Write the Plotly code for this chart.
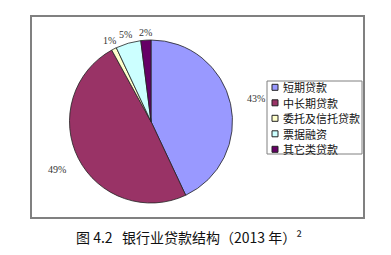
import math
import plotly.graph_objects as go

categories = ["短期贷款", "中长期贷款", "委托及信托贷款", "票据融资", "其它类贷款"]
values = [43, 49, 1, 5, 2]
colors = ["#9999FF", "#993366", "#FFFFCC", "#CCFFFF", "#660066"]
caption = "图 4.2   银行业贷款结构（2013 年）²"

# style: distance of each percent label from the centre, in pie radii
label_dist = [1.32, 1.30, 1.12, 1.11, 1.10]

W, H = 391, 255
cx, cy, r = 151, 121.5, 81.5


def px(x):
    return x / W


def py(y):
    return 1 - y / H


fig = go.Figure(go.Pie(
    labels=categories, values=values, sort=False, direction="clockwise", rotation=0,
    marker=dict(colors=colors, line=dict(color="#222222", width=0.8)),
    textinfo="none", hoverinfo="label+percent",
    domain=dict(x=[px(cx - r), px(cx + r)], y=[py(cy + r), py(cy - r)]),
    showlegend=False,
))

shapes = [
    dict(type="rect", xref="paper", yref="paper",
         x0=px(31), x1=px(364), y0=py(218), y1=py(16),
         line=dict(color="#808080", width=2)),
    dict(type="rect", xref="paper", yref="paper",
         x0=px(267), x1=px(362), y0=py(154), y1=py(81),
         line=dict(color="#808080", width=1), fillcolor="white"),
]
annotations = []

# percent labels placed along each slice's mid angle
total = sum(values)
cum = 0
for v, k in zip(values, label_dist):
    mid = (cum + v / 2) / total * 2 * math.pi
    cum += v
    lx = cx + k * r * math.sin(mid)
    ly = cy - k * r * math.cos(mid)
    annotations.append(dict(
        text=f"{round(v / total * 100)}%", xref="paper", yref="paper",
        x=px(lx), y=py(ly), xanchor="center", yanchor="middle", showarrow=False,
        font=dict(family="Liberation Serif, Noto Sans CJK SC", size=10, color="#333333")))

# custom legend
row0, row_gap = 87.3, 15.5
for i, (name, c) in enumerate(zip(categories, colors)):
    yc = row0 + i * row_gap
    shapes.append(dict(type="rect", xref="paper", yref="paper",
                       x0=px(272), x1=px(278), y0=py(yc + 3), y1=py(yc - 3),
                       fillcolor=c, line=dict(color="#222222", width=1)))
    annotations.append(dict(
        text=name, xref="paper", yref="paper", x=px(281), y=py(yc),
        xanchor="left", yanchor="middle", showarrow=False,
        font=dict(family="Noto Sans CJK SC", size=11, color="#111111")))

annotations.append(dict(
    text=caption, xref="paper", yref="paper", x=px(189), y=py(237),
    xanchor="center", yanchor="middle", showarrow=False,
    font=dict(family="Noto Sans CJK SC", size=14, color="#111111")))

fig.update_layout(
    width=W, height=H, margin=dict(l=0, r=0, t=0, b=0),
    paper_bgcolor="white", plot_bgcolor="white",
    font=dict(family="Noto Sans CJK SC", color="#000000"),
    shapes=shapes, annotations=annotations,
)

fig.write_html("out.html")
